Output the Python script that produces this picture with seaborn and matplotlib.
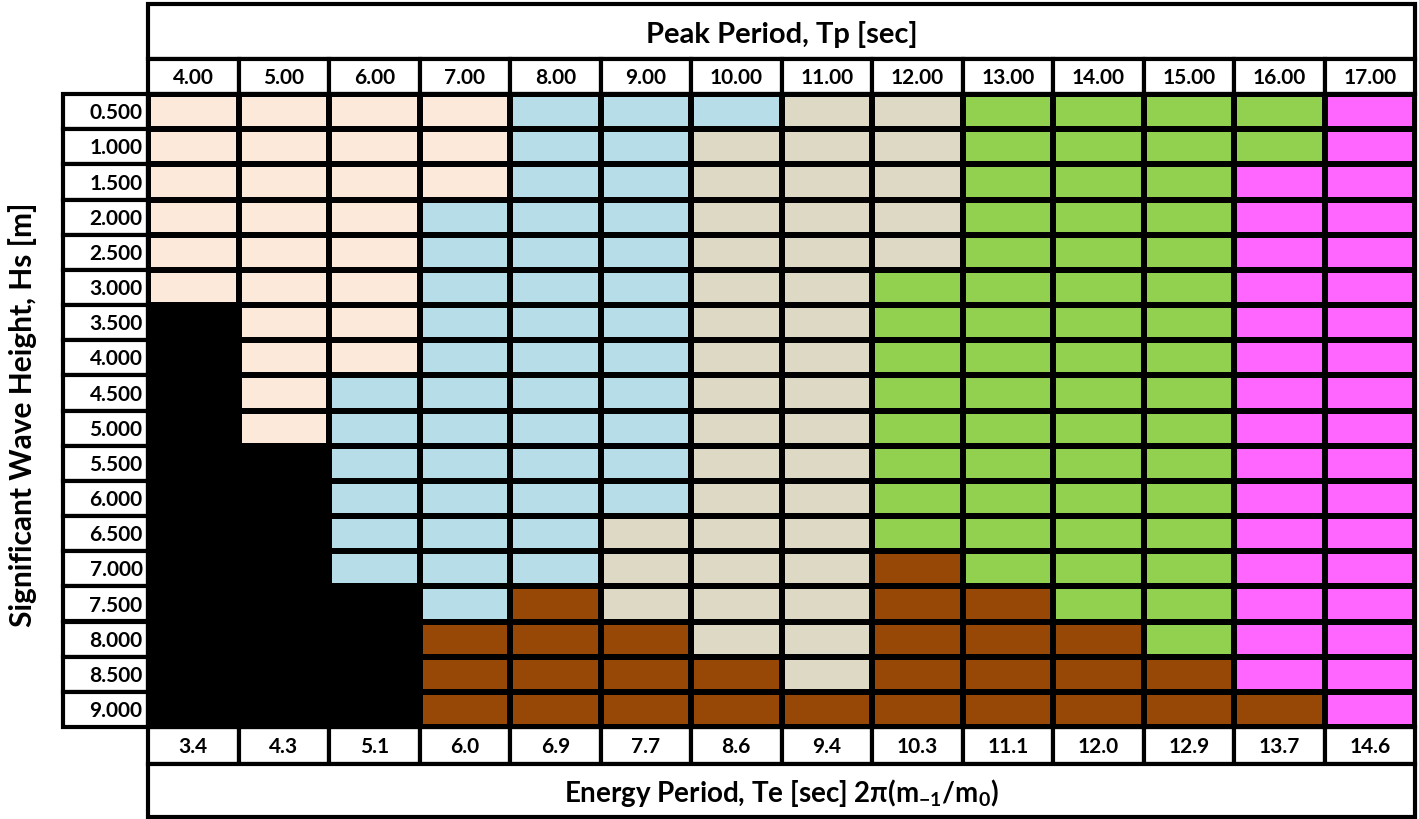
import seaborn as sns
import matplotlib.pyplot as plt
import numpy as np
import pandas as pd
from matplotlib.colors import ListedColormap
from matplotlib.patches import Rectangle

# column / row labels
tp_labels = ['4.00', '5.00', '6.00', '7.00', '8.00', '9.00', '10.00',
             '11.00', '12.00', '13.00', '14.00', '15.00', '16.00', '17.00']
te_labels = ['3.4', '4.3', '5.1', '6.0', '6.9', '7.7', '8.6',
             '9.4', '10.3', '11.1', '12.0', '12.9', '13.7', '14.6']
hs_labels = ['0.500', '1.000', '1.500', '2.000', '2.500', '3.000', '3.500',
             '4.000', '4.500', '5.000', '5.500', '6.000', '6.500', '7.000',
             '7.500', '8.000', '8.500', '9.000']

# zone of each cell, one string per Hs row (K black, P peach, B blue,
# T tan, G green, R brown, M magenta)
zone_rows = [
    'PPPPBBBTTGGGGM',
    'PPPPBBTTTGGGGM',
    'PPPPBBTTTGGGMM',
    'PPPBBBTTTGGGMM',
    'PPPBBBTTTGGGMM',
    'PPPBBBTTGGGGMM',
    'KPPBBBTTGGGGMM',
    'KPPBBBTTGGGGMM',
    'KPBBBBTTGGGGMM',
    'KPBBBBTTGGGGMM',
    'KKBBBBTTGGGGMM',
    'KKBBBBTTGGGGMM',
    'KKBBBTTTGGGGMM',
    'KKBBBTTTRGGGMM',
    'KKKBRTTTRRGGMM',
    'KKKRRRTTRRRGMM',
    'KKKRRRRTRRRRMM',
    'KKKRRRRRRRRRRM',
]
zone_codes = ['K', 'P', 'B', 'T', 'G', 'R', 'M']
zone_colors = ['#000000', '#FDE9D9', '#B7DDE8', '#DDD9C4', '#92D050', '#974706', '#FF66FF']

grid = pd.DataFrame([[zone_codes.index(c) for c in row] for row in zone_rows],
                    index=hs_labels, columns=tp_labels)

fam = ['Lato', 'DejaVu Sans']
plt.rcParams['font.family'] = fam
plt.rcParams['mathtext.fontset'] = 'custom'
plt.rcParams['mathtext.rm'] = 'Lato:bold'
plt.rcParams['mathtext.it'] = 'Lato:bold'
plt.rcParams['mathtext.bf'] = 'Lato:bold'

fig = plt.figure(figsize=(14.19, 8.2), dpi=100)
ax = fig.add_axes([148 / 1419, 92 / 820, 1267 / 1419, 633 / 820])

lw = 3
sns.heatmap(grid, ax=ax, cmap=ListedColormap(zone_colors), vmin=-0.5, vmax=6.5,
            cbar=False, linewidths=lw, linecolor='black', xticklabels=False,
            yticklabels=False)
ax.set_xlabel('')
ax.set_ylabel('')

ncol, nrow = len(tp_labels), len(hs_labels)
fs = 15


def box(x, y, w, h):
    ax.add_patch(Rectangle((x, y), w, h, facecolor='white', edgecolor='black',
                           lw=lw, clip_on=False, zorder=3))


# top header: title + Tp row
box(0, -2.56, ncol, 1.56)
ax.text(ncol / 2, -1.72, 'Peak Period, Tp [sec]', ha='center', va='center',
        fontsize=21, fontweight='bold', zorder=4)
for i, lab in enumerate(tp_labels):
    box(i, -1, 1, 1)
    ax.text(i + 0.5, -0.48, lab, ha='center', va='center', fontsize=fs,
            fontweight='bold', zorder=4)

# bottom: Te row + title
for i, lab in enumerate(te_labels):
    box(i, nrow, 1, 1.05)
    ax.text(i + 0.5, nrow + 0.55, lab, ha='center', va='center', fontsize=fs,
            fontweight='bold', zorder=4)
box(0, nrow + 1.05, ncol, 1.5)
ax.text(ncol / 2, nrow + 1.85,
        r'Energy Period, Te [sec] 2π(m$_{-1}$/m$_{0}$)',
        ha='center', va='center', fontsize=20, fontweight='bold', zorder=4)

# left: Hs row labels
for j, lab in enumerate(hs_labels):
    box(-0.94, j, 0.94, 1)
    ax.text(-0.06, j + 0.52, lab, ha='right', va='center', fontsize=fs,
            fontweight='bold', zorder=4)

# outer frame around the coloured grid
ax.add_patch(Rectangle((0, 0), ncol, nrow, fill=False, edgecolor='black',
                       lw=lw, clip_on=False, zorder=3))

ax.text(-1.39, nrow / 2 + 0.1, 'Significant Wave Height, Hs [m]', rotation=90,
        ha='center', va='center', fontsize=21.5, fontweight='bold')

plt.savefig('out.png', dpi=100)
